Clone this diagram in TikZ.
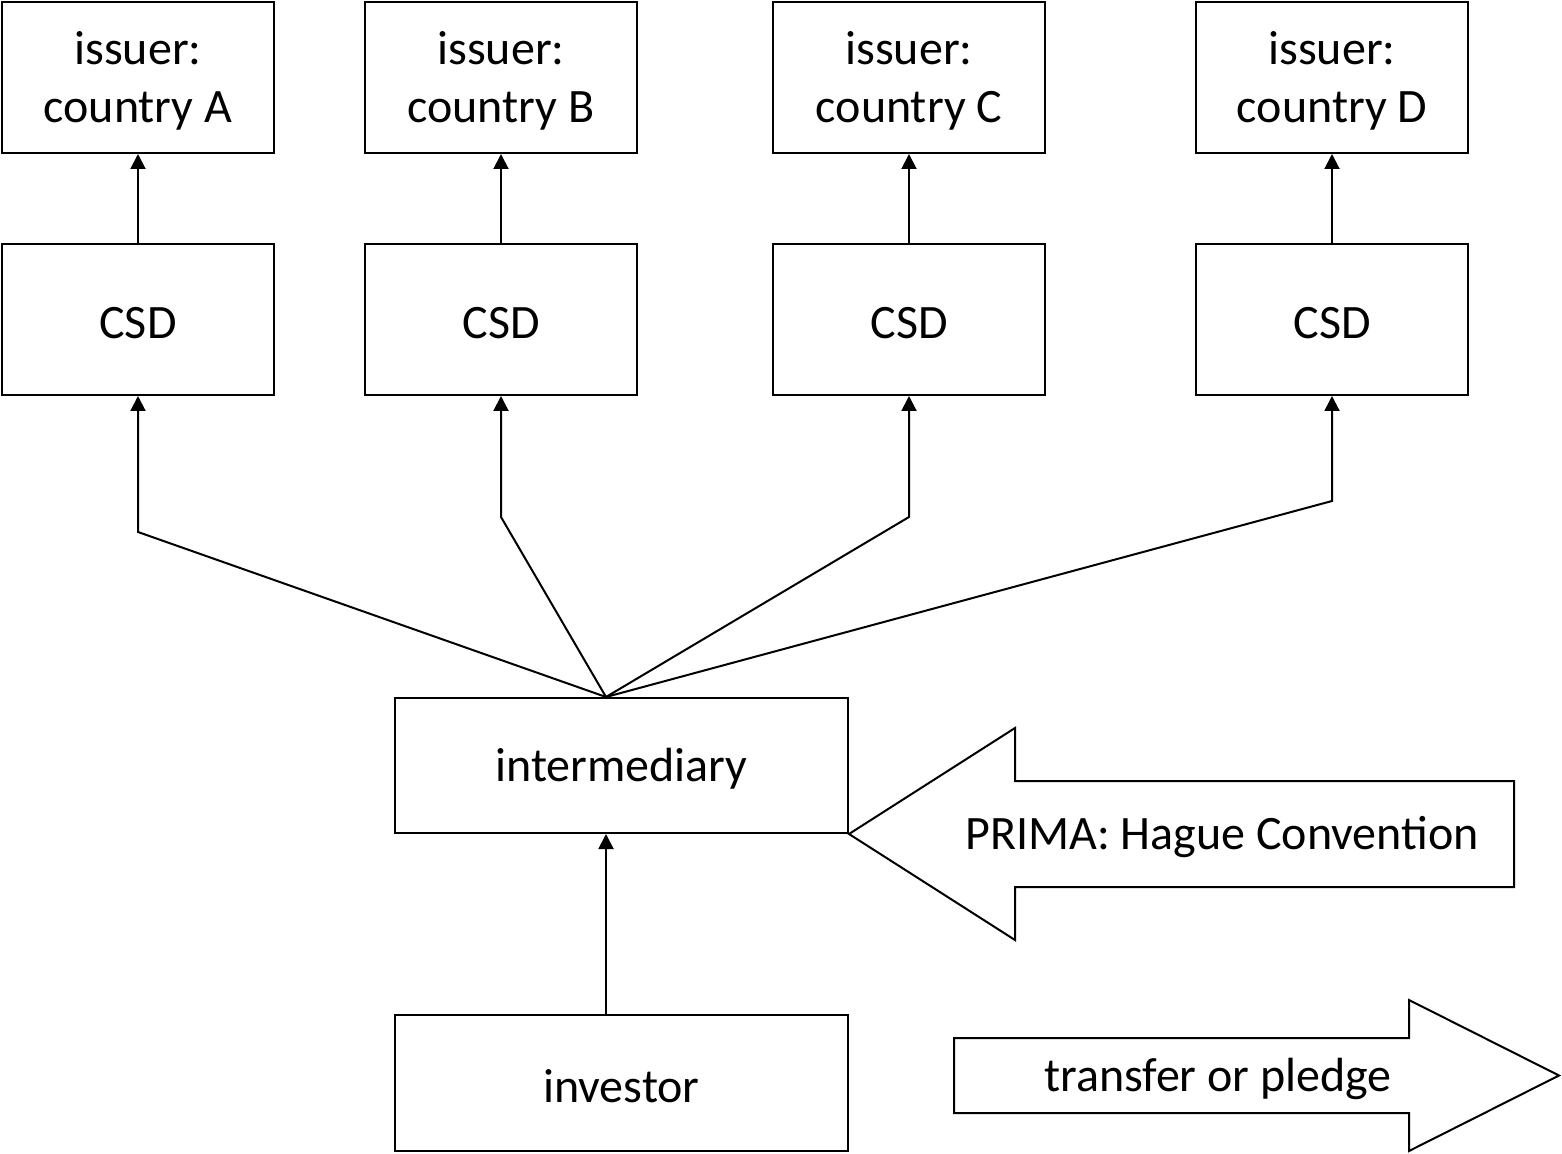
\documentclass[tikz,border=0pt]{standalone}
\usepackage{fontspec}
\setmainfont{Carlito}
\usetikzlibrary{arrows.meta,calc}
\tikzset{
  txt/.style={font=\fontsize{24}{29}\selectfont},
  lbl/.style={txt, inner sep=0pt, align=center},
  box/.style={draw, line width=1pt, inner sep=0pt, minimum width=136pt, minimum height=75.5pt,
    label={[lbl, yshift=-1.75pt]center:#1}},
  bigbox/.style={draw, line width=1pt, inner sep=0pt, minimum width=226.5pt, minimum height=67.5pt,
    label={[lbl, yshift=-1.5pt]center:#1}},
  conn/.style={line width=1pt, -{Triangle[length=7.5pt,width=7.5pt]}},
  fat/.style={draw, line width=1pt, line join=miter}
}
\begin{document}
\begin{tikzpicture}[x=0.5pt,y=-0.5pt]
\useasboundingbox (0,0) rectangle (1562,1154);
% issuers
\node[box={issuer:\\country A}] (iA) at (138,77.5) {};
\node[box={issuer:\\country B}] (iB) at (501,77.5) {};
\node[box={issuer:\\country C}] (iC) at (909,77.5) {};
\node[box={issuer:\\country D}] (iD) at (1332,77.5) {};
% CSDs
\node[box=CSD] (cA) at (138,319.5) {};
\node[box=CSD] (cB) at (501,319.5) {};
\node[box=CSD] (cC) at (909,319.5) {};
\node[box=CSD] (cD) at (1332,319.5) {};
% intermediary and investor
\node[bigbox=intermediary] (inter) at (621.5,765.5) {};
\node[bigbox=investor, minimum height=68pt] (inv) at (621.5,1083) {};
% bends
\coordinate (hub) at ([xshift=-7.75pt]inter.north);
\coordinate (bA) at (138,532);
\coordinate (bB) at (501,517);
\coordinate (bC) at (909,517);
\coordinate (bD) at (1332,501);
% connectors CSD -> issuer
\draw[conn] (cA) -- (iA);
\draw[conn] (cB) -- (iB);
\draw[conn] (cC) -- (iC);
\draw[conn] (cD) -- (iD);
% fan
\draw[conn] (hub) -- (bA) -- (cA.south);
\draw[conn] (hub) -- (bB) -- (cB.south);
\draw[conn] (hub) -- (bC) -- (cC.south);
\draw[conn] (hub) -- (bD) -- (cD.south);
% investor -> intermediary
\draw[conn] ([xshift=-7.75pt]inv.north) -- ([xshift=-7.75pt]inter.south);
% PRIMA arrow
\draw[fat] (inter.south east) -- (1015,728) -- (1015,781) -- (1514,781) -- (1514,887) -- (1015,887) -- (1015,940) -- cycle;
\node[lbl] (prima) at (1222,837) {PRIMA: Hague Convention};
% transfer arrow
\draw[fat] (954,1038) -- (1409,1038) -- (1409,1000) -- (1559,1075.5) -- (1409,1151) -- (1409,1113) -- (954,1113) -- cycle;
\node[lbl] (tp) at (1218,1079) {transfer or pledge};
\end{tikzpicture}
\end{document}
